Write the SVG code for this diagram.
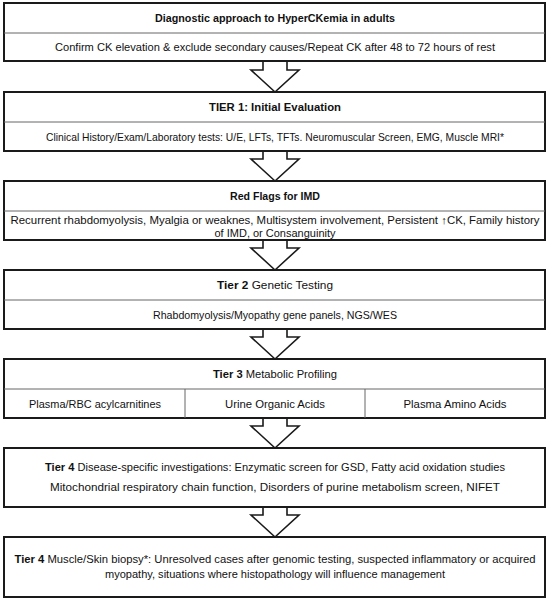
<svg xmlns="http://www.w3.org/2000/svg" width="550" height="601" viewBox="0 0 550 601">
<style>
.box{fill:#fff;stroke:#1a1a1a;stroke-width:2}
.div{stroke:#666;stroke-width:1}
.arr{fill:#fff;stroke:#1a1a1a;stroke-width:1.6;stroke-linejoin:miter}
text{font-family:"Liberation Sans",Arial,sans-serif;font-size:11px;fill:#111;text-anchor:middle}
.b{font-weight:bold}
</style>
<rect width="550" height="601" fill="#fff"/>
<g id="connectors">
<path class="arr" d="M263,61 V70 H251 L275,92 L299,70 H287 V61"/>
<path class="arr" d="M263,151 V159 H251 L275,181 L299,159 H287 V151"/>
<path class="arr" d="M263,240 V248 H251 L275,270 L299,248 H287 V240"/>
<path class="arr" d="M263,329 V337 H251 L275,359 L299,337 H287 V329"/>
<path class="arr" d="M263,418 V426 H251 L275,448 L299,426 H287 V418"/>
<path class="arr" d="M263,507 V515 H251 L275,537 L299,515 H287 V507"/>
</g>
<g id="node1">
<rect class="box" x="4" y="3" width="541" height="58"/>
<line class="div" x1="4" y1="33" x2="545" y2="33"/>
<text class="b" x="275" y="22" textLength="240" lengthAdjust="spacingAndGlyphs">Diagnostic approach to HyperCKemia in adults</text>
<text x="275" y="51" textLength="440" lengthAdjust="spacingAndGlyphs">Confirm CK elevation &amp; exclude secondary causes/Repeat CK after 48 to 72 hours of rest</text>
</g>
<g id="node2">
<rect class="box" x="4" y="92" width="541" height="59"/>
<line class="div" x1="4" y1="122" x2="545" y2="122"/>
<text class="b" x="275" y="111" textLength="132" lengthAdjust="spacingAndGlyphs">TIER 1: Initial Evaluation</text>
<text x="275" y="141" textLength="458" lengthAdjust="spacingAndGlyphs">Clinical History/Exam/Laboratory tests: U/E, LFTs, TFTs. Neuromuscular Screen, EMG, Muscle MRI*</text>
</g>
<g id="node3">
<rect class="box" x="4" y="181" width="541" height="59"/>
<line class="div" x1="4" y1="211" x2="545" y2="211"/>
<text class="b" x="275" y="200" textLength="90" lengthAdjust="spacingAndGlyphs">Red Flags for IMD</text>
<text x="275" y="224" textLength="529" lengthAdjust="spacingAndGlyphs">Recurrent rhabdomyolysis, Myalgia or weaknes, Multisystem involvement, Persistent ↑CK, Family history</text>
<text x="275" y="237" textLength="121" lengthAdjust="spacingAndGlyphs">of IMD, or Consanguinity</text>
</g>
<g id="node4">
<rect class="box" x="4" y="270" width="541" height="59"/>
<line class="div" x1="4" y1="300" x2="545" y2="300"/>
<text x="275" y="289" textLength="116" lengthAdjust="spacingAndGlyphs"><tspan class="b">Tier 2</tspan> Genetic Testing</text>
<text x="275" y="319" textLength="244" lengthAdjust="spacingAndGlyphs">Rhabdomyolysis/Myopathy gene panels, NGS/WES</text>
</g>
<g id="node5">
<rect class="box" x="4" y="359" width="541" height="59"/>
<line class="div" x1="4" y1="389" x2="545" y2="389"/>
<line class="div" x1="185" y1="389" x2="185" y2="418"/>
<line class="div" x1="365" y1="389" x2="365" y2="418"/>
<text x="275" y="378" textLength="124" lengthAdjust="spacingAndGlyphs"><tspan class="b">Tier 3</tspan> Metabolic Profiling</text>
<text x="95" y="408" textLength="132" lengthAdjust="spacingAndGlyphs">Plasma/RBC acylcarnitines</text>
<text x="275" y="408" textLength="100" lengthAdjust="spacingAndGlyphs">Urine Organic Acids</text>
<text x="455" y="408" textLength="103" lengthAdjust="spacingAndGlyphs">Plasma Amino Acids</text>
</g>
<g id="node6">
<rect class="box" x="4" y="448" width="541" height="59"/>
<text x="275" y="471" textLength="460" lengthAdjust="spacingAndGlyphs"><tspan class="b">Tier 4</tspan> Disease-specific investigations: Enzymatic screen for GSD, Fatty acid oxidation studies</text>
<text x="275" y="491" textLength="450" lengthAdjust="spacingAndGlyphs">Mitochondrial respiratory chain function, Disorders of purine metabolism screen, NIFET</text>
</g>
<g id="node7">
<rect class="box" x="4" y="537" width="541" height="60"/>
<text x="275" y="563" textLength="521" lengthAdjust="spacingAndGlyphs"><tspan class="b">Tier 4</tspan> Muscle/Skin biopsy*: Unresolved cases after genomic testing, suspected inflammatory or acquired</text>
<text x="275" y="578" textLength="340" lengthAdjust="spacingAndGlyphs">myopathy, situations where histopathology will influence management</text>
</g>
</svg>
